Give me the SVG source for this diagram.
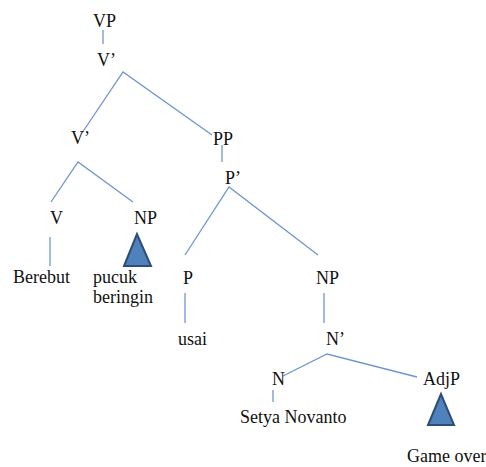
<svg xmlns="http://www.w3.org/2000/svg" width="486" height="467" viewBox="0 0 486 467">
<style>
.e{stroke:#6f95cf;stroke-width:1.3;fill:none}
.tri{fill:#4f81bd;stroke:#2c4d75;stroke-width:2}
</style>
<rect width="486" height="467" fill="#fff"/>
<g id="connectors">
<line class="e" x1="103" y1="30" x2="103" y2="44"/>
<polyline class="e" points="82,133 123,72 212,135"/>
<polyline class="e" points="51,202 78,162 133,202"/>
<line class="e" x1="222" y1="145" x2="222" y2="162"/>
<polyline class="e" points="185,255 229,187 318,255"/>
<line class="e" x1="50" y1="237" x2="50" y2="266"/>
<line class="e" x1="185" y1="293" x2="185" y2="323"/>
<line class="e" x1="324" y1="293" x2="324" y2="323"/>
<polyline class="e" points="283,376 327,354 417,377"/>
<line class="e" x1="273" y1="390" x2="273" y2="402"/>
</g>
<g font-family="Liberation Serif" font-size="18" fill="#111">
<g id="VP"><text x="93" y="27">VP</text></g>
<g id="Vbar1"><text x="97" y="66">V’</text></g>
<g id="Vbar2"><text x="71" y="144">V’</text></g>
<g id="PP"><text x="213" y="145">PP</text></g>
<g id="Pbar"><text x="225" y="184">P’</text></g>
<g id="V"><text x="50" y="224">V</text></g>
<g id="NP1"><text x="134" y="224">NP</text><polygon class="tri" points="137,234 124,266 151,266"/></g>
<g id="Berebut"><text x="13" y="283">Berebut</text></g>
<g id="pucuk"><text x="93" y="283">pucuk</text><text x="93" y="303">beringin</text></g>
<g id="P"><text x="183" y="284">P</text></g>
<g id="NP2"><text x="316" y="284">NP</text></g>
<g id="usai"><text x="178" y="345">usai</text></g>
<g id="Nbar"><text x="326" y="345">N’</text></g>
<g id="N"><text x="272" y="385">N</text></g>
<g id="AdjP"><text x="423" y="385">AdjP</text><polygon class="tri" points="441,394 428,425 454,425"/></g>
<g id="Setya"><text x="240" y="423">Setya Novanto</text></g>
<g id="Gameover"><text x="407" y="462">Game over</text></g>
</g>
</svg>
